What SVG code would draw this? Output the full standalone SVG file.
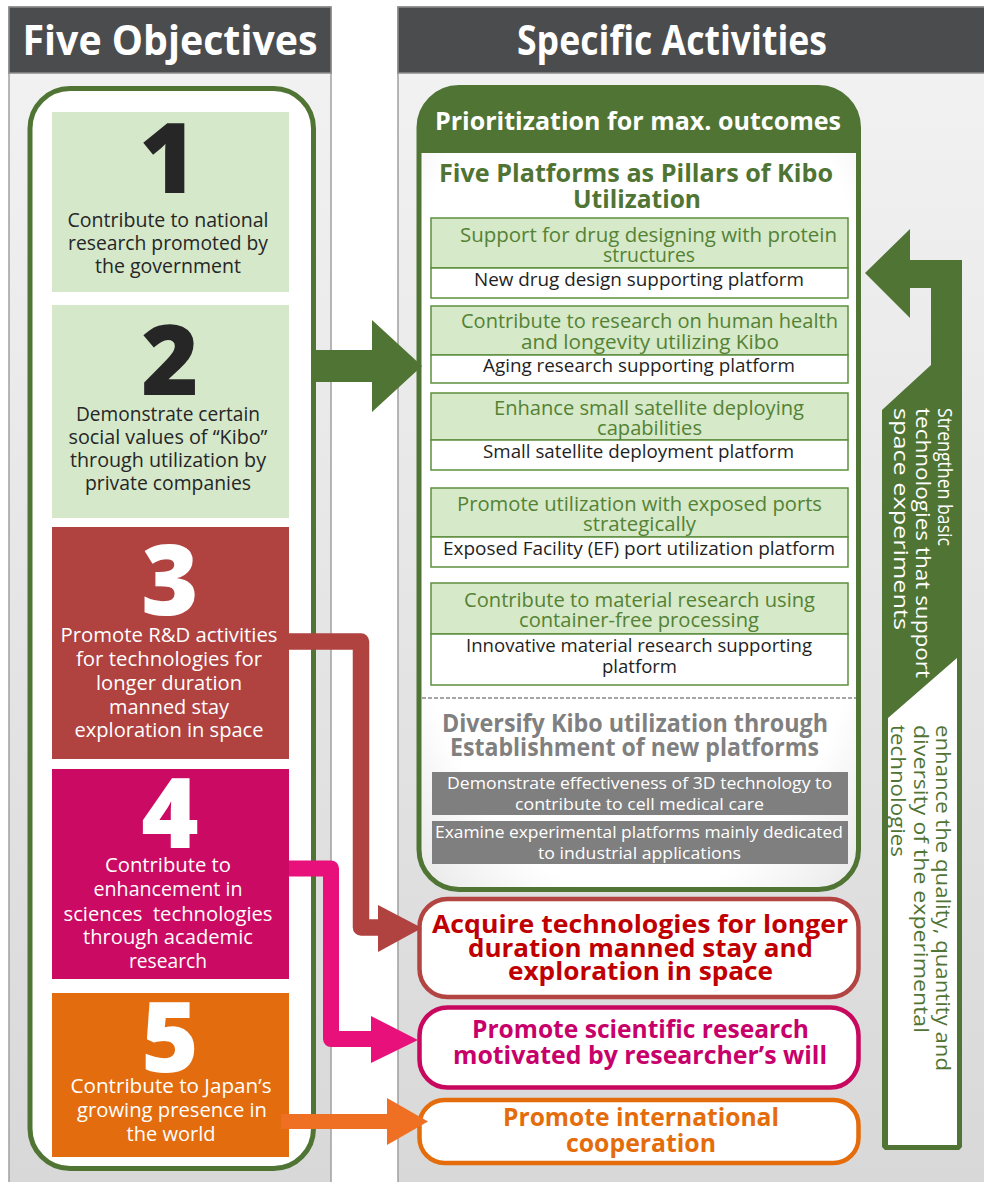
<svg xmlns="http://www.w3.org/2000/svg" width="984" height="1182" viewBox="0 0 984 1182">
<defs>
<linearGradient id="bg" x1="0" y1="0" x2="0" y2="1">
<stop offset="0" stop-color="#f3f3f3"/>
<stop offset="1" stop-color="#d8d8d8"/>
</linearGradient>
<radialGradient id="wbg" cx="0.5" cy="0.45" r="0.75">
<stop offset="0.75" stop-color="#ffffff"/>
<stop offset="1" stop-color="#e6e6e6"/>
</radialGradient>
</defs>
<style>
text{font-family:"Open Sans","Noto Sans","Liberation Sans",sans-serif;}
.hd{font-size:42px;font-weight:700;fill:#ffffff;text-anchor:middle;}
.num{font-size:98px;font-weight:800;text-anchor:middle;}
.ot{font-size:20px;text-anchor:middle;}
.dk{fill:#262626;}
.wt{fill:#ffffff;}
.gt{font-size:20px;fill:#548235;text-anchor:middle;}
.bt{font-size:17.5px;fill:#1f1f1f;text-anchor:middle;}
.gyt{font-size:17px;fill:#ffffff;text-anchor:middle;}
.big{font-size:25px;font-weight:700;text-anchor:middle;}
.pbox{fill:#d6e9c8;stroke:#5e8f3e;stroke-width:1.5;}
.wbox{fill:#ffffff;stroke:#5e8f3e;stroke-width:1.5;}
.conn{fill:none;stroke-linejoin:round;}
.rot{font-size:20.5px;}
</style>

<!-- panels -->
<g id="panel-left">
<rect x="9" y="7" width="322" height="1180" fill="url(#bg)" stroke="#a0a0a0" stroke-width="1.5"/>
<rect x="9" y="7" width="322" height="66" fill="#4b4c4e" stroke="#8c8c8c" stroke-width="1.5"/>
<text class="hd" x="170" y="55" textLength="295" lengthAdjust="spacingAndGlyphs">Five Objectives</text>
</g>
<g id="panel-right">
<rect x="398" y="7" width="600" height="1180" fill="url(#bg)" stroke="#a0a0a0" stroke-width="1.5"/>
<rect x="398" y="7" width="600" height="66" fill="#4b4c4e" stroke="#8c8c8c" stroke-width="1.5"/>
<text class="hd" x="672" y="55" textLength="310" lengthAdjust="spacingAndGlyphs">Specific Activities</text>
</g>

<!-- left container -->
<g id="objectives-container">
<rect x="30" y="88.5" width="283.5" height="1080" rx="40" fill="#ffffff" stroke="#4f7434" stroke-width="5"/>
</g>

<g id="obj1">
<rect x="52" y="112" width="237" height="180" fill="#d5e8ca"/>
<text class="num dk" x="168" y="193">1</text>
<text class="ot dk" x="168" y="227" textLength="201" lengthAdjust="spacingAndGlyphs">Contribute to national</text>
<text class="ot dk" x="168" y="250" textLength="200" lengthAdjust="spacingAndGlyphs">research promoted by</text>
<text class="ot dk" x="168" y="273" textLength="146" lengthAdjust="spacingAndGlyphs">the government</text>
</g>
<g id="obj2">
<rect x="52" y="305" width="237" height="213" fill="#d5e8ca"/>
<text class="num dk" x="170" y="395">2</text>
<text class="ot dk" x="168" y="421" textLength="184" lengthAdjust="spacingAndGlyphs">Demonstrate certain</text>
<text class="ot dk" x="168" y="444" textLength="199" lengthAdjust="spacingAndGlyphs">social values of “Kibo”</text>
<text class="ot dk" x="168" y="467" textLength="196" lengthAdjust="spacingAndGlyphs">through utilization by</text>
<text class="ot dk" x="168" y="490" textLength="166" lengthAdjust="spacingAndGlyphs">private companies</text>
</g>
<g id="obj3">
<rect x="52" y="527" width="237" height="232" fill="#b04240"/>
<text class="num wt" x="170" y="615">3</text>
<text class="ot wt" x="169" y="642" textLength="217" lengthAdjust="spacingAndGlyphs">Promote R&amp;D activities</text>
<text class="ot wt" x="169" y="666" textLength="186" lengthAdjust="spacingAndGlyphs">for technologies for</text>
<text class="ot wt" x="169" y="690" textLength="146" lengthAdjust="spacingAndGlyphs">longer duration</text>
<text class="ot wt" x="169" y="714" textLength="120" lengthAdjust="spacingAndGlyphs">manned stay</text>
<text class="ot wt" x="169" y="737" textLength="189" lengthAdjust="spacingAndGlyphs">exploration in space</text>
</g>
<g id="obj4">
<rect x="52" y="769" width="237" height="210" fill="#cb0a63"/>
<text class="num wt" x="170" y="848">4</text>
<text class="ot wt" x="168" y="872" textLength="126" lengthAdjust="spacingAndGlyphs">Contribute to</text>
<text class="ot wt" x="168" y="896" textLength="149" lengthAdjust="spacingAndGlyphs">enhancement in</text>
<text class="ot wt" x="168" y="921" textLength="209" lengthAdjust="spacingAndGlyphs">sciences&#160; technologies</text>
<text class="ot wt" x="168" y="944" textLength="170" lengthAdjust="spacingAndGlyphs">through academic</text>
<text class="ot wt" x="168" y="968" textLength="78" lengthAdjust="spacingAndGlyphs">research</text>
</g>
<g id="obj5">
<rect x="52" y="993" width="237" height="164" fill="#e36c0e"/>
<text class="num wt" x="170" y="1072">5</text>
<text class="ot wt" x="171" y="1093" textLength="201" lengthAdjust="spacingAndGlyphs">Contribute to Japan’s</text>
<text class="ot wt" x="172" y="1117" textLength="190" lengthAdjust="spacingAndGlyphs">growing presence in</text>
<text class="ot wt" x="171" y="1141" textLength="89" lengthAdjust="spacingAndGlyphs">the world</text>
</g>

<!-- right container -->
<g id="activities-container">
<rect x="419" y="87.5" width="439.5" height="802" rx="40" fill="url(#wbg)" stroke="#4f7434" stroke-width="5"/>
<path d="M419,153 V127.5 A40,40 0 0 1 459,87.5 H818.5 A40,40 0 0 1 858.5,127.5 V153 Z" fill="#4f7434"/>
<text class="big" x="638" y="130" fill="#ffffff" textLength="406" lengthAdjust="spacingAndGlyphs">Prioritization for max. outcomes</text>
<text class="big" x="636" y="182" fill="#4f7434" textLength="394" lengthAdjust="spacingAndGlyphs">Five Platforms as Pillars of Kibo</text>
<text class="big" x="637" y="208" fill="#4f7434" textLength="128" lengthAdjust="spacingAndGlyphs">Utilization</text>
<line x1="422" y1="698" x2="856" y2="698" stroke="#a6a6a6" stroke-width="2" stroke-dasharray="4 2"/>
</g>

<g id="platform1">
<rect class="pbox" x="431" y="218" width="417" height="50"/>
<rect class="wbox" x="431" y="268" width="417" height="30"/>
<text class="gt" x="648.5" y="242" textLength="377" lengthAdjust="spacingAndGlyphs">Support for drug designing with protein</text>
<text class="gt" x="649" y="262" textLength="92" lengthAdjust="spacingAndGlyphs">structures</text>
<text class="bt" x="639" y="286" textLength="330" lengthAdjust="spacingAndGlyphs">New drug design supporting platform</text>
</g>
<g id="platform2">
<rect class="pbox" x="431" y="306" width="417" height="49"/>
<rect class="wbox" x="431" y="355" width="417" height="28"/>
<text class="gt" x="649.5" y="328" textLength="377" lengthAdjust="spacingAndGlyphs">Contribute to research on human health</text>
<text class="gt" x="650" y="349" textLength="258" lengthAdjust="spacingAndGlyphs">and longevity utilizing Kibo</text>
<text class="bt" x="639" y="372" textLength="312" lengthAdjust="spacingAndGlyphs">Aging research supporting platform</text>
</g>
<g id="platform3">
<rect class="pbox" x="431" y="393" width="417" height="47"/>
<rect class="wbox" x="431" y="440" width="417" height="30"/>
<text class="gt" x="649" y="415" textLength="310" lengthAdjust="spacingAndGlyphs">Enhance small satellite deploying</text>
<text class="gt" x="649.5" y="435" textLength="105" lengthAdjust="spacingAndGlyphs">capabilities</text>
<text class="bt" x="638.5" y="458" textLength="311" lengthAdjust="spacingAndGlyphs">Small satellite deployment platform</text>
</g>
<g id="platform4">
<rect class="pbox" x="431" y="488" width="417" height="49"/>
<rect class="wbox" x="431" y="537" width="417" height="30"/>
<text class="gt" x="639.5" y="511" textLength="365" lengthAdjust="spacingAndGlyphs">Promote utilization with exposed ports</text>
<text class="gt" x="639.5" y="531" textLength="113" lengthAdjust="spacingAndGlyphs">strategically</text>
<text class="bt" x="639" y="555" textLength="392" lengthAdjust="spacingAndGlyphs">Exposed Facility (EF) port utilization platform</text>
</g>
<g id="platform5">
<rect class="pbox" x="431" y="583" width="417" height="51"/>
<rect class="wbox" x="431" y="634" width="417" height="51"/>
<text class="gt" x="639.5" y="607" textLength="351" lengthAdjust="spacingAndGlyphs">Contribute to material research using</text>
<text class="gt" x="639" y="627" textLength="240" lengthAdjust="spacingAndGlyphs">container-free processing</text>
<text class="bt" x="639" y="652" textLength="346" lengthAdjust="spacingAndGlyphs">Innovative material research supporting</text>
<text class="bt" x="639.5" y="673" textLength="75" lengthAdjust="spacingAndGlyphs">platform</text>
</g>

<g id="new-platforms">
<text class="big" x="635" y="732" fill="#808080" font-size="24" textLength="386" lengthAdjust="spacingAndGlyphs">Diversify Kibo utilization through</text>
<text class="big" x="634.5" y="756" fill="#808080" font-size="24" textLength="369" lengthAdjust="spacingAndGlyphs">Establishment of new platforms</text>
</g>
<g id="new1">
<rect x="432" y="772" width="416" height="43" fill="#7f7f7f"/>
<text class="gyt" x="639.5" y="789" textLength="385" lengthAdjust="spacingAndGlyphs">Demonstrate effectiveness of 3D technology to</text>
<text class="gyt" x="639.5" y="810" textLength="249" lengthAdjust="spacingAndGlyphs">contribute to cell medical care</text>
</g>
<g id="new2">
<rect x="432" y="821" width="416" height="43" fill="#7f7f7f"/>
<text class="gyt" x="639" y="838" textLength="408" lengthAdjust="spacingAndGlyphs">Examine experimental platforms mainly dedicated</text>
<text class="gyt" x="639.5" y="859" textLength="203" lengthAdjust="spacingAndGlyphs">to industrial applications</text>
</g>

<g id="goal-tech">
<rect x="419.5" y="899" width="439" height="98" rx="28" fill="#ffffff" stroke="#b24541" stroke-width="4.5"/>
<text class="big" x="640" y="933" fill="#c00000" textLength="416" lengthAdjust="spacingAndGlyphs">Acquire technologies for longer</text>
<text class="big" x="640.5" y="957" fill="#c00000" textLength="345" lengthAdjust="spacingAndGlyphs">duration manned stay and</text>
<text class="big" x="640.5" y="980" fill="#c00000" textLength="265" lengthAdjust="spacingAndGlyphs">exploration in space</text>
</g>
<g id="goal-science">
<rect x="419.5" y="1007.5" width="439" height="80" rx="28" fill="#ffffff" stroke="#c8075f" stroke-width="4.5"/>
<text class="big" x="640.5" y="1038" fill="#c8006a" font-size="24" textLength="337" lengthAdjust="spacingAndGlyphs">Promote scientific research</text>
<text class="big" x="640" y="1064" fill="#c8006a" font-size="24" textLength="374" lengthAdjust="spacingAndGlyphs">motivated by researcher’s will</text>
</g>
<g id="goal-intl">
<rect x="419.5" y="1100" width="439" height="63" rx="25" fill="#ffffff" stroke="#e46c0a" stroke-width="4.5"/>
<text class="big" x="641" y="1126" fill="#e46c0a" font-size="24" textLength="276" lengthAdjust="spacingAndGlyphs">Promote international</text>
<text class="big" x="641" y="1152" fill="#e46c0a" font-size="24" textLength="150" lengthAdjust="spacingAndGlyphs">cooperation</text>
</g>

<g id="feedback">
<polygon points="865,273 910,229 910,260 962,260 962,1147 959,1150 885,1150 882,1147 882,410 931,365 931,288 910,288 910,318" fill="#4f7434"/>
<polygon points="888,718 957,658 957,1145 888,1145" fill="#ffffff"/>
<text class="rot" fill="#ffffff" transform="translate(938,408) rotate(90)">
<tspan x="0" y="0" textLength="138" lengthAdjust="spacingAndGlyphs">Strengthen basic</tspan>
<tspan x="0" y="22" textLength="270" lengthAdjust="spacingAndGlyphs">technologies that support</tspan>
<tspan x="0" y="44" textLength="222" lengthAdjust="spacingAndGlyphs">space experiments</tspan>
</text>
<text class="rot" fill="#4f7434" transform="translate(936,725) rotate(90)">
<tspan x="0" y="0" textLength="346" lengthAdjust="spacingAndGlyphs">enhance the quality, quantity and</tspan>
<tspan x="0" y="22.5" textLength="308" lengthAdjust="spacingAndGlyphs">diversity of the experimental</tspan>
<tspan x="0" y="45" textLength="132" lengthAdjust="spacingAndGlyphs">technologies</tspan>
</text>
</g>

<g id="connectors">
<polygon points="313,350 372,350 372,320 422,366 372,412 372,382 313,382" fill="#4f7434"/>
<path class="conn" d="M289,641.5 H361 V927.5 H382" stroke="#b04240" stroke-width="16.5"/>
<polygon points="378,905 422,928 378,952" fill="#b04240"/>
<path class="conn" d="M289,868.5 H331 V1039 H374" stroke="#e8107a" stroke-width="16"/>
<polygon points="371,1016 418,1040 371,1063" fill="#e8107a"/>
<path class="conn" d="M281,1121.5 H390" stroke="#f07023" stroke-width="15"/>
<polygon points="387,1098 428,1121.5 387,1145" fill="#f07023"/>
</g>
</svg>
